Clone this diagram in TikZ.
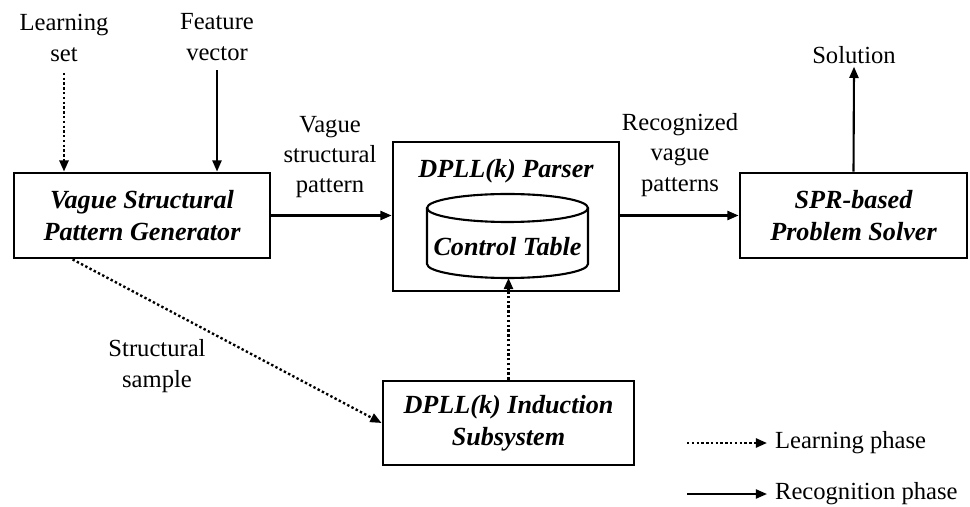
\documentclass[tikz,border=0pt]{standalone}
\usepackage{fontspec}
\setmainfont{Liberation Serif}
\usetikzlibrary{arrows.meta}

\begin{document}
\begin{tikzpicture}[
    x=0.025cm, y=0.025cm,
    boxfont/.style={font=\fontsize{18.6}{22.8}\selectfont\bfseries\itshape},
    box/.style={boxfont, draw, line width=2pt, align=center, inner sep=0pt},
    lbl/.style={align=center, inner sep=2pt, font=\fontsize{17.5}{21.5}\selectfont},
    recog/.style={line width=1.5pt, -{Triangle[length=8pt,width=6.5pt]}},
    learn/.style={recog, line width=1.7pt, dash pattern=on 1.7pt off 1.7pt}
  ]
  \useasboundingbox (0,0) rectangle (970,506);

    % 1. Blocks
    \node[box, minimum width=6.4cm, minimum height=2.125cm] (gen) at (142,290.5)
      {Vague Structural\\Pattern Generator};
    \node[box, minimum width=5.65cm, minimum height=3.725cm] (parser) at (506,289.5) {};
    \node[box, minimum width=5.675cm, minimum height=2.125cm] (spr) at (853.5,290.5)
      {SPR-based\\Problem Solver};
    \node[box, minimum width=6.275cm, minimum height=2.1cm] (ind) at (508.5,83)
      {DPLL(k) Induction\\Subsystem};

    % 2. Parser with control table
    \node[boxfont] (ptitle) at (506,335) {DPLL(k) Parser};
    \draw[line width=1.5pt] (507.5,298) ellipse (80.5 and 14);
    \draw[line width=1.5pt] (427,298) -- (427,242) arc (180:360:80.5 and 14) -- (588,298);
    \coordinate (ctbot) at (507.5,228);
    \node[boxfont] (ctab) at (507.5,259) {Control Table};

    % 3. Labels
    \node[lbl] (lset) at (64,468) {Learning\\set};
    \node[lbl] (fvec) at (217,469) {Feature\\vector};
    \node[lbl] (sol) at (854,451) {Solution};
    \node[lbl] (vsp) at (330,349) {Vague\\structural\\pattern};
    \node[lbl] (rvp) at (680,351) {Recognized\\vague\\patterns};
    \node[lbl] (ssmp) at (157,140) {Structural\\sample};

    % 4. Arrows
    \draw[learn, shorten <=6pt] (lset.south) -- (lset.south |- gen.north);
    \draw[recog, shorten <=5pt] (fvec.south) -- (fvec.south |- gen.north);
    \draw[recog] (gen.east) -- (gen.east -| parser.west);
    \draw[recog] (parser.east |- spr.west) -- (spr.west);
    \draw[recog] (spr.north) -- (sol.south);
    \draw[learn] (ind.north) -- (ind.north |- ctbot);
    \draw[learn] ([xshift=1.5cm]gen.south west) -- (ind.west);

    % 5. Legend
    \coordinate (lg1) at (687,63);
    \coordinate (lg2) at (767,63);
    \coordinate (rg1) at (687,12);
    \coordinate (rg2) at (767,12);
    \draw[learn] (lg1) -- (lg2);
    \draw[recog] (rg1) -- (rg2);
    \node[lbl, anchor=west] (lgl) at (772,63) {Learning phase};
    \node[lbl, anchor=west] (rgl) at (772,12) {Recognition phase};

  \end{tikzpicture}
\end{document}
